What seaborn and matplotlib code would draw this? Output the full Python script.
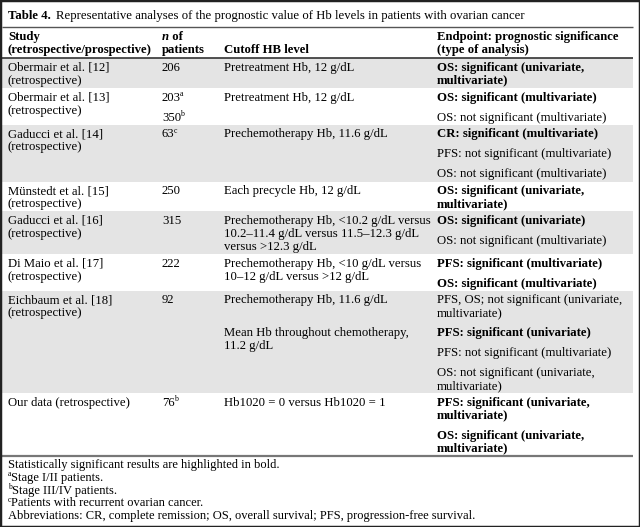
import matplotlib
matplotlib.use("Agg")
import matplotlib.pyplot as plt
from matplotlib.patches import Rectangle
import seaborn as sns

# ---- table content ----
title_bold = "Table 4."
title_rest = "Representative analyses of the prognostic value of Hb levels in patients with ovarian cancer"

header_study = ["Study", "(retrospective/prospective)"]
header_n = [("n", " of"), ("", "patients")]
header_cutoff = "Cutoff HB level"
header_endpoint = ["Endpoint: prognostic significance", "(type of analysis)"]

studies = [
    "Obermair et al. [12]\n(retrospective)",
    "Obermair et al. [13]\n(retrospective)",
    "Gaducci et al. [14]\n(retrospective)",
    "Münstedt et al. [15]\n(retrospective)",
    "Gaducci et al. [16]\n(retrospective)",
    "Di Maio et al. [17]\n(retrospective)",
    "Eichbaum et al. [18]\n(retrospective)",
    "Our data (retrospective)",
]
n_patients = [
    [("206", "")],
    [("203", "a"), ("350", "b")],
    [("63", "c")],
    [("250", "")],
    [("315", "")],
    [("222", "")],
    [("92", "")],
    [("76", "b")],
]
cutoffs = [
    ["Pretreatment Hb, 12 g/dL"],
    ["Pretreatment Hb, 12 g/dL"],
    ["Prechemotherapy Hb, 11.6 g/dL"],
    ["Each precycle Hb, 12 g/dL"],
    ["Prechemotherapy Hb, <10.2 g/dL versus\n10.2–11.4 g/dL versus 11.5–12.3 g/dL\nversus >12.3 g/dL"],
    ["Prechemotherapy Hb, <10 g/dL versus\n10–12 g/dL versus >12 g/dL"],
    ["Prechemotherapy Hb, 11.6 g/dL", "Mean Hb throughout chemotherapy,\n11.2 g/dL"],
    ["Hb1020 = 0 versus Hb1020 = 1"],
]
endpoints = [
    ["OS: significant (univariate,\nmultivariate)"],
    ["OS: significant (multivariate)", "OS: not significant (multivariate)"],
    ["CR: significant (multivariate)", "PFS: not significant (multivariate)",
     "OS: not significant (multivariate)"],
    ["OS: significant (univariate,\nmultivariate)"],
    ["OS: significant (univariate)", "OS: not significant (multivariate)"],
    ["PFS: significant (multivariate)", "OS: significant (multivariate)"],
    ["PFS, OS; not significant (univariate,\nmultivariate)", "PFS: significant (univariate)",
     "PFS: not significant (multivariate)", "OS: not significant (univariate,\nmultivariate)"],
    ["PFS: significant (univariate,\nmultivariate)", "OS: significant (univariate,\nmultivariate)"],
]
endpoint_bold = [
    [True], [True, False], [True, False, False], [True],
    [True, False], [True, True], [False, True, False, False], [True, True],
]
footnotes = [
    ("", "Statistically significant results are highlighted in bold."),
    ("a", "Stage I/II patients."),
    ("b", "Stage III/IV patients."),
    ("c", "Patients with recurrent ovarian cancer."),
    ("", "Abbreviations: CR, complete remission; OS, overall survival; PFS, progression-free survival."),
]

# ---- style ----
sns.set_theme(style="white")
plt.rcParams['font.family'] = ['Liberation Serif', 'DejaVu Serif']

W, H = 640, 527
FS = 9.15          # body text, pt
FS_TITLE = 9.15
FS_FOOT = 9.0
L = 12.9           # line pitch, px
G = 7.0            # gap between entries
P = 2.0            # cell padding
HP = 3.0           # header padding
FOOT_L = 12.7
x_cols = [8, 162, 224, 437]
x_left, x_right = 2, 633
shade = "#e4e4e4"

fig = plt.figure(figsize=(6.4, 5.27), dpi=100)
ax = fig.add_axes([0, 0, 1, 1])
ax.set_xlim(0, W)
ax.set_ylim(H, 0)
ax.axis("off")
renderer = fig.canvas.get_renderer()


def put(x, y, s, size=FS, **kw):
    t = ax.text(x, y, s, va="baseline", ha="left", fontsize=size, color="black", **kw)
    return x + t.get_window_extent(renderer).width


def put_sup(x, y, base, sup, size=FS, weight="normal", lead=False):
    px = size * 100 / 72
    if lead:
        if sup:
            x = put(x, y - 0.36 * px, sup, size=size * 0.62)
        return put(x - 0.3, y, base, size=size, fontweight=weight)
    x = put(x, y, base, size=size, fontweight=weight)
    if sup:
        x = put(x - 0.8, y - 0.36 * px, sup, size=size * 0.62, fontweight=weight)
    return x


def baseline(top, pitch=L, size=FS):
    return top + pitch / 2 + 0.32 * size * 100 / 72


# title
y = baseline(8, 13, FS_TITLE)
x = put(8, y, title_bold, size=FS_TITLE, fontweight="bold")
put(x + 0.45 * FS_TITLE * 100 / 72, y, title_rest, size=FS_TITLE)
y_line = 26.5
ax.hlines(y_line, x_left, x_right, color="#555555", lw=1.0)

# header
top = y_line + HP
for i, s in enumerate(header_study):
    put(x_cols[0], baseline(top + i * L), s, fontweight="bold")
for i, (it, rest) in enumerate(header_n):
    xx = x_cols[1]
    if it:
        xx = put(xx, baseline(top + i * L), it, fontweight="bold", fontstyle="italic")
    put(xx, baseline(top + i * L), rest, fontweight="bold")
put(x_cols[2], baseline(top + L), header_cutoff, fontweight="bold")
for i, s in enumerate(header_endpoint):
    put(x_cols[3], baseline(top + i * L), s, fontweight="bold")
row_top = top + 2 * L + HP
ax.hlines(row_top, x_left, x_right, color="#333333", lw=1.2)

# body rows
for r in range(len(studies)):
    ends = endpoints[r]
    nl = [e.count("\n") + 1 for e in ends]
    offs = []
    acc = 0.0
    for k in nl:
        offs.append(acc)
        acc += k * L + G
    content = offs[-1] + nl[-1] * L
    for k, c in enumerate(cutoffs[r]):
        content = max(content, offs[k] + (c.count("\n") + 1) * L)
    content = max(content, (studies[r].count("\n") + 1) * L)
    h = content + 2 * P
    if r % 2 == 0:
        ax.add_patch(Rectangle((x_left, row_top), x_right - x_left, h,
                               color=shade, lw=0, zorder=0))
    t0 = row_top + P
    for i, s in enumerate(studies[r].split("\n")):
        put(x_cols[0], baseline(t0 + i * L), s)
    for k, (base, sup) in enumerate(n_patients[r]):
        put_sup(x_cols[1], baseline(t0 + offs[k]), base, sup)
    for k, c in enumerate(cutoffs[r]):
        for i, s in enumerate(c.split("\n")):
            put(x_cols[2], baseline(t0 + offs[k] + i * L), s)
    for k, e in enumerate(ends):
        w = "bold" if endpoint_bold[r][k] else "normal"
        for i, s in enumerate(e.split("\n")):
            put(x_cols[3], baseline(t0 + offs[k] + i * L), s, fontweight=w)
    row_top += h

ax.hlines(row_top + 0.5, x_left, x_right, color="#777777", lw=1.6)

# footnotes
ft = row_top + 2
for i, (sup, s) in enumerate(footnotes):
    put_sup(x_cols[0], baseline(ft + i * FOOT_L, FOOT_L, FS_FOOT), s, sup,
            size=FS_FOOT, lead=True)

fig.patches.append(Rectangle((0, 0), 1, 1, transform=fig.transFigure, fill=False,
                             ec="#222222", lw=2.5))
fig.savefig("out.png", dpi=100)
